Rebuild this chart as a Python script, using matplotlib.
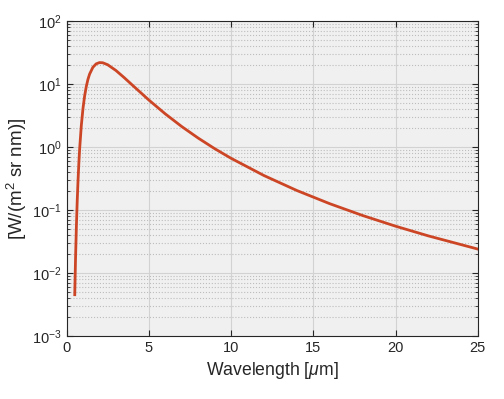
import matplotlib.pyplot as plt
from matplotlib.ticker import LogLocator, MultipleLocator, NullFormatter

# values
wavelength_um = [0.5, 0.55, 0.6, 0.65, 0.7, 0.75, 0.8, 0.9, 1.0, 1.1, 1.2, 1.3,
                 1.4, 1.6, 1.8, 2.0, 2.2, 2.5, 3.0, 3.5, 4.0, 5.0, 6.0, 7.0,
                 8.0, 9.0, 10.0, 12.0, 14.0, 16.0, 18.0, 20.0, 22.0, 25.0]
radiance = [0.00452, 0.01815, 0.0558, 0.1396, 0.298, 0.5617, 0.958, 2.216,
            4.099, 6.476, 9.137, 11.84, 14.37, 18.47, 20.97, 21.96, 21.84,
            20.32, 16.48, 12.71, 9.65, 5.60, 3.371, 2.121, 1.391, 0.9457,
            0.6637, 0.3533, 0.2043, 0.1261, 0.08187, 0.05541, 0.03881, 0.02399]

plt.rcParams['font.family'] = ['Liberation Sans', 'DejaVu Sans']
plt.rcParams['mathtext.fontset'] = 'custom'
plt.rcParams['mathtext.rm'] = 'Liberation Sans'
plt.rcParams['mathtext.it'] = 'Liberation Sans:italic'

fig = plt.figure(figsize=(5.04, 3.99), dpi=100)
ax = fig.add_axes([0.132, 0.158, 0.816, 0.789])
ax.set_facecolor('#f0f0f0')

ax.semilogy(wavelength_um, radiance, color='#cc4626', linewidth=2)

ax.set_xlim(0, 25)
ax.set_ylim(1e-3, 1e2)
ax.xaxis.set_major_locator(MultipleLocator(5))
ax.yaxis.set_major_locator(LogLocator(base=10, numticks=10))
ax.yaxis.set_minor_locator(LogLocator(base=10, subs=range(2, 10), numticks=10))
ax.yaxis.set_minor_formatter(NullFormatter())

ax.grid(True, which='major', color='#d2d2d2', linewidth=0.8)
ax.grid(True, which='minor', axis='y', color='#bdbdbd', linestyle=':', linewidth=0.8)
ax.set_axisbelow(True)

ax.tick_params(which='both', direction='in', top=True, right=True,
               colors='#262626', labelsize=10.5)
ax.tick_params(which='major', length=4)
ax.tick_params(which='minor', length=2)
for s in ax.spines.values():
    s.set_color('#262626')
    s.set_linewidth(0.8)

ax.set_xlabel(r'Wavelength [$\mu$m]', fontsize=12.7, color='#262626')
ax.set_ylabel(r'[W/(m$^2$ sr nm)]', fontsize=13.5, color='#262626', labelpad=2)

fig.savefig('out.png', dpi=100)
